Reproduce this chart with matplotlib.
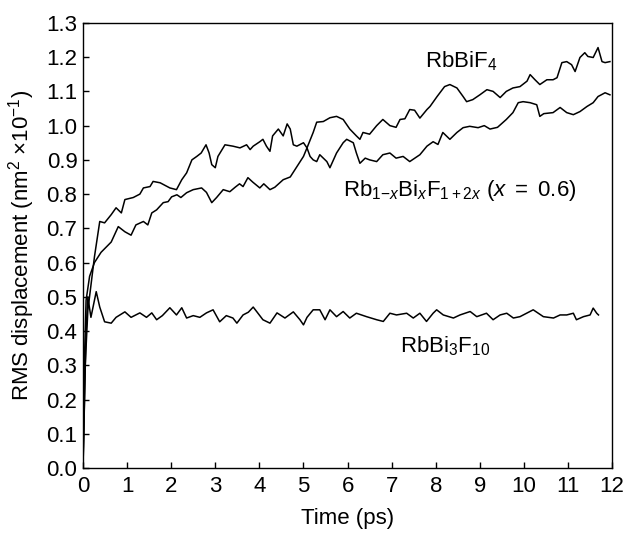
import matplotlib
matplotlib.use("Agg")
import matplotlib.pyplot as plt

plt.rcParams['font.family'] = ['Liberation Sans', 'DejaVu Sans']
plt.rcParams['mathtext.fontset'] = 'custom'
plt.rcParams['mathtext.rm'] = 'Liberation Sans'
plt.rcParams['mathtext.it'] = 'Liberation Sans:italic'
plt.rcParams['mathtext.bf'] = 'Liberation Sans:bold'

# Series: RbBiF4 (lower at start, top at the end)
t_bif4 = [0, 0.04, 0.07, 0.15, 0.26, 0.41, 0.64, 0.8, 0.95, 1.09, 1.2, 1.37, 1.47, 1.56, 1.67,
          1.82, 1.93, 2.01, 2.13, 2.22, 2.35, 2.5, 2.69, 2.8, 2.92, 3.03, 3.18, 3.33, 3.45, 3.55, 3.63,
          3.74, 3.85, 4.01, 4.1, 4.24, 4.35, 4.54, 4.7, 4.85, 5.0, 5.08, 5.22, 5.3, 5.45, 5.6, 5.75,
          5.9, 6.05, 6.2, 6.28, 6.35, 6.5, 6.66, 6.8, 6.96, 7.1, 7.19, 7.3, 7.41, 7.52, 7.64, 7.8,
          7.87, 8.03, 8.2, 8.32, 8.48, 8.62, 8.7, 8.84, 9.0, 9.16, 9.3, 9.46, 9.6, 9.75, 9.91, 10.07,
          10.14, 10.25, 10.36, 10.52, 10.66, 10.75, 10.86, 10.97, 11.08, 11.16, 11.27, 11.38, 11.45,
          11.57, 11.68, 11.77, 11.84, 11.95]
v_bif4 = [0.0, 0.35, 0.49, 0.56, 0.6, 0.63, 0.66, 0.705, 0.69, 0.68, 0.71, 0.72, 0.71, 0.745, 0.754,
          0.775, 0.778, 0.792, 0.798, 0.79, 0.804, 0.813, 0.818, 0.805, 0.775, 0.79, 0.813, 0.807, 0.82, 0.83, 0.822,
          0.848, 0.835, 0.818, 0.83, 0.813, 0.82, 0.842, 0.85, 0.88, 0.91, 0.935, 0.98, 1.01, 1.012, 1.023, 1.027,
          1.018, 0.99, 0.97, 0.96, 0.98, 0.975, 1.0, 1.018, 1.0, 0.995, 1.018, 1.02, 1.047, 1.045, 1.022, 1.047,
          1.056, 1.085, 1.114, 1.12, 1.11, 1.085, 1.07, 1.076, 1.09, 1.105, 1.1, 1.082, 1.1, 1.11, 1.114, 1.13,
          1.149, 1.134, 1.12, 1.134, 1.134, 1.14, 1.184, 1.187, 1.178, 1.158, 1.199, 1.213, 1.202,
          1.199, 1.228, 1.187, 1.184, 1.187]

# Series: Rb1-xBixF1+2x (x = 0.6) (upper at start, lower at the end)
t_mix = [0, 0.05, 0.11, 0.26, 0.38, 0.49, 0.64, 0.75, 0.87, 0.95, 1.14, 1.29, 1.37, 1.52, 1.59,
         1.75, 1.97, 2.12, 2.24, 2.35, 2.47, 2.58, 2.68, 2.79, 2.86, 2.92, 3.0, 3.06, 3.22, 3.4, 3.56,
         3.71, 3.79, 3.86, 4.01, 4.08, 4.16, 4.24, 4.3, 4.43, 4.54, 4.63, 4.7, 4.77, 4.85, 5.0, 5.08,
         5.15, 5.22, 5.3, 5.37, 5.53, 5.6, 5.75, 5.9, 5.98, 6.13, 6.2, 6.28, 6.4, 6.5, 6.66, 6.8,
         6.96, 7.1, 7.26, 7.41, 7.64, 7.8, 7.94, 8.05, 8.16, 8.32, 8.48, 8.62, 8.77, 8.96, 9.1, 9.23,
         9.4, 9.6, 9.75, 9.87, 9.98, 10.14, 10.29, 10.36, 10.45, 10.66, 10.82, 10.97, 11.12, 11.27,
         11.43, 11.57, 11.68, 11.84, 11.95]
v_mix = [0.0, 0.3, 0.46, 0.617, 0.72, 0.716, 0.74, 0.76, 0.745, 0.784, 0.79, 0.8, 0.818, 0.822, 0.837,
         0.833, 0.818, 0.813, 0.842, 0.862, 0.9, 0.91, 0.92, 0.944, 0.92, 0.886, 0.877, 0.91, 0.944, 0.94, 0.935,
         0.944, 0.93, 0.94, 0.953, 0.96, 0.94, 0.925, 0.97, 0.99, 0.97, 1.005, 0.99, 0.944, 0.94, 0.95, 0.935,
         0.91, 0.9, 0.895, 0.915, 0.895, 0.877, 0.92, 0.95, 0.96, 0.95, 0.92, 0.89, 0.905, 0.9, 0.895, 0.915,
         0.92, 0.905, 0.91, 0.895, 0.915, 0.94, 0.953, 0.945, 0.98, 0.96, 0.98, 0.994, 0.998, 0.994, 1.0, 0.99,
         0.995, 1.018, 1.038, 1.067, 1.07, 1.067, 1.061, 1.027, 1.035, 1.038, 1.053, 1.038, 1.032, 1.041,
         1.056, 1.067, 1.085, 1.096, 1.09]

# Series: RbBi3F10
t_bi3 = [0, 0.07, 0.11, 0.18, 0.3, 0.38, 0.49, 0.64, 0.75, 0.95, 1.09, 1.29, 1.44, 1.56,
         1.67, 1.8, 1.97, 2.12, 2.24, 2.35, 2.5, 2.65, 2.8, 2.95, 3.1, 3.25, 3.4, 3.49, 3.63, 3.75, 3.86,
         3.95, 4.08, 4.24, 4.4, 4.58, 4.77, 4.92, 5.0, 5.08, 5.22, 5.37, 5.49, 5.6, 5.75, 5.9, 6.05, 6.2,
         6.43, 6.66, 6.81, 6.96, 7.11, 7.34, 7.49, 7.64, 7.79, 7.94, 8.02, 8.17, 8.4, 8.55, 8.78, 8.93,
         9.15, 9.3, 9.46, 9.61, 9.76, 9.91, 10.06, 10.21, 10.44, 10.67, 10.82, 10.97, 11.12, 11.19, 11.35,
         11.5, 11.57, 11.65, 11.69]
v_bi3 = [0.0, 0.4, 0.5, 0.44, 0.515, 0.47, 0.427, 0.423, 0.44, 0.456, 0.44, 0.453, 0.44, 0.453,
         0.433, 0.445, 0.468, 0.447, 0.468, 0.438, 0.445, 0.44, 0.453, 0.462, 0.427, 0.445, 0.438, 0.423, 0.447, 0.455, 0.47,
         0.455, 0.433, 0.423, 0.453, 0.438, 0.456, 0.433, 0.418, 0.44, 0.462, 0.462, 0.433, 0.462, 0.442, 0.457, 0.438, 0.452,
         0.442, 0.433, 0.428, 0.452, 0.447, 0.452, 0.438, 0.452, 0.428, 0.452, 0.462, 0.447, 0.438, 0.447, 0.457, 0.442,
         0.452, 0.433, 0.447, 0.452, 0.438, 0.442, 0.452, 0.462, 0.442, 0.438, 0.447, 0.447, 0.452, 0.433, 0.442,
         0.447, 0.467, 0.452, 0.447]

x_ticks = list(range(0, 13))
y_ticks = [round(0.1 * i, 1) for i in range(14)]
x_label = "Time (ps)"
y_label = r"RMS displacement (nm$^2$ $\times$10$^{-1}$)"
lbl_bif4 = r"RbBiF$_4$"
lbl_mix = r"Rb$_{1\mathrm{-}x}$Bi$_x$F$_{1+2x}$ ($x$ $=$ 0.6)"
lbl_bi3 = r"RbBi$_3$F$_{10}$"

FS = 16

fig = plt.figure(figsize=(6.24, 5.33), dpi=100)
ax = fig.add_axes([0.133, 0.122, 0.848, 0.835])

lw = 1.1
ax.plot(t_bif4, v_bif4, color='black', lw=lw)
ax.plot(t_mix, v_mix, color='black', lw=lw)
ax.plot(t_bi3, v_bi3, color='black', lw=lw)

ax.set_xlim(0, 12)
ax.set_ylim(0, 1.3)
ax.set_xticks(x_ticks)
ax.set_yticks(y_ticks)
ax.set_yticklabels([f"{v:.1f}" for v in y_ticks])
ax.tick_params(direction='in', length=4, width=1, labelsize=FS)
ax.tick_params(axis='x', pad=6)
ax.tick_params(axis='y', pad=4)
for s in ax.spines.values():
    s.set_linewidth(1.0)

ax.set_xlabel(x_label, fontsize=FS, labelpad=8)
ax.set_ylabel(y_label, fontsize=FS, labelpad=7)

ax.text(7.76, 1.187, lbl_bif4, fontsize=FS, va='center', ha='left')
ax.text(5.9, 0.81, lbl_mix, fontsize=FS, va='center', ha='left')
ax.text(7.2, 0.357, lbl_bi3, fontsize=FS, va='center', ha='left')

fig.savefig("out.png", dpi=100)
